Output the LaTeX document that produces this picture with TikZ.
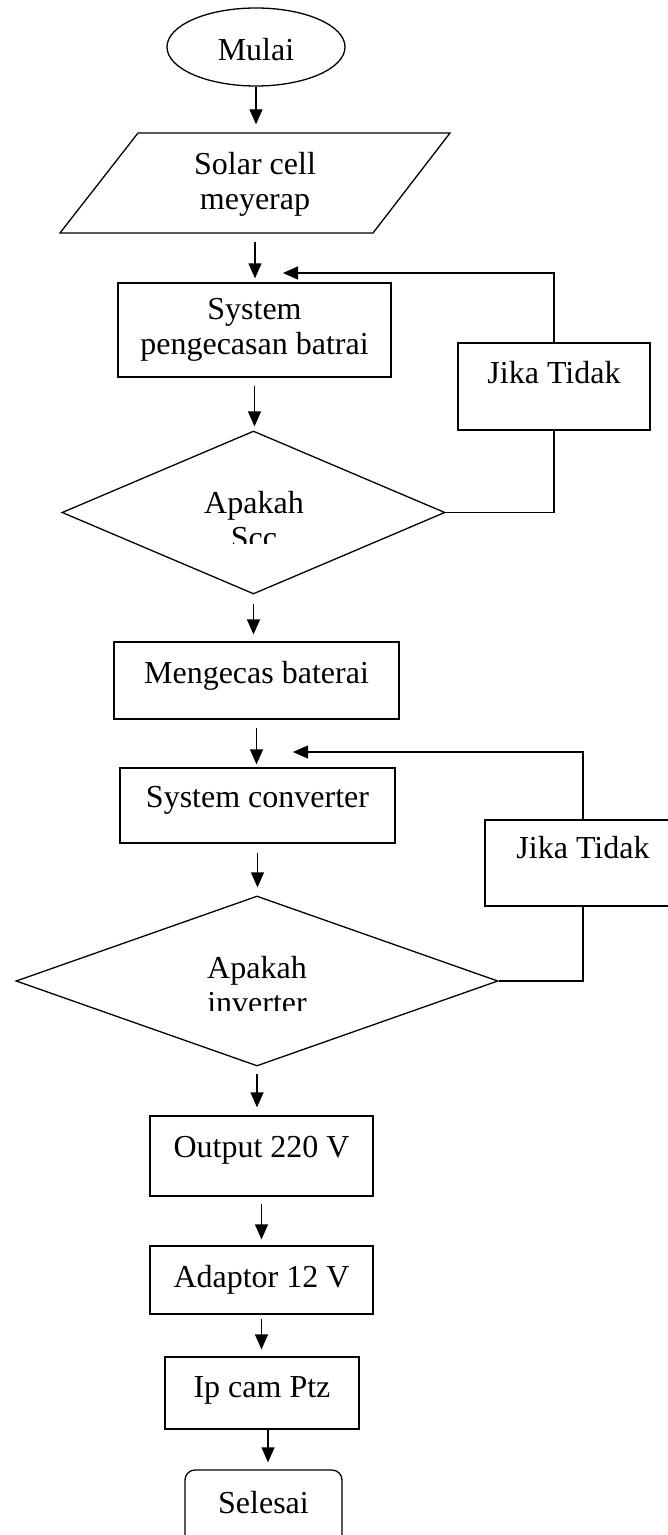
\documentclass[tikz,border=0pt]{standalone}
\usepackage{fontspec}
\setmainfont{Liberation Serif}
\usetikzlibrary{calc, positioning}
\usetikzlibrary{shapes.geometric}
\usetikzlibrary{arrows.meta}

\begin{document}
\begin{tikzpicture}[x=0.5pt, y=-0.5pt, line join=miter,
  font=\fontsize{16}{17.5}\selectfont,
  every node/.style={inner sep=0pt, line width=0.65pt},
  process/.style={draw, rectangle, align=center},
  oneline/.style={process, text height=10.5pt},
  decision/.style={draw, diamond},
  flow/.style={line width=0.65pt, -{Triangle[length=7.5pt, width=6.5pt]}},
  loopline/.style={line width=0.65pt}]

% Page frame
\useasboundingbox (0,0) rectangle (668,1535);
\clip (0,0) rectangle (668,1535);

% Start and input
\node[draw, ellipse, minimum width=89pt, minimum height=39pt, text height=14pt, text depth=0pt] (start) at (256,47) {Mulai};
\draw[line width=0.65pt] (60,233) -- (138,133) -- (450,133) -- (373,233) -- cycle;
\node[align=center, minimum height=50pt] (input) at (255,184) {Solar cell\\meyerap};

% First charging block with its check
\node[process, minimum width=136.5pt, minimum height=47pt] (proc1) at (254.5,330) {System\\pengecasan batrai};
\node[decision, minimum width=191.5pt, minimum height=81.5pt] (dec1) at (253.5,512.5) {};
\begin{scope}
\clip (62,431) rectangle (445,543);
\node[align=center] (dec1txt) at (254,520) {Apakah\\Scc};
\end{scope}
\node[oneline, minimum width=96pt, minimum height=43.5pt, text depth=14pt] (jika1) at (554,386.5) {Jika Tidak};

% Charging and converter
\node[oneline, minimum width=142.5pt, minimum height=38.5pt, text depth=8pt] (proc2) at (256.5,680.5) {Mengecas baterai};
\node[oneline, minimum width=137.5pt, minimum height=37.5pt, text depth=9pt] (proc3) at (257.5,805.5) {System converter};
\node[decision, minimum width=241pt, minimum height=85pt] (dec2) at (257,981) {};
\begin{scope}
\clip (16,896) rectangle (498,1010);
\node[align=center] (dec2txt) at (257,985) {Apakah\\inverter};
\end{scope}
\node[oneline, minimum width=98pt, minimum height=43pt, text depth=15.5pt] (jika2) at (583,863) {Jika Tidak};

% Output chain
\node[oneline, minimum width=111.5pt, minimum height=40pt, text depth=9.5pt] (out) at (261.5,1156) {Output 220 V};
\node[oneline, minimum width=111.5pt, minimum height=34pt, text depth=3.5pt] (adapt) at (261.5,1280) {Adaptor 12 V};
\node[oneline, minimum width=97pt, minimum height=36pt, text depth=6.5pt] (cam) at (262,1393) {Ip cam Ptz};
\node[oneline, rounded corners=5pt, minimum width=78.5pt, minimum height=37.5pt, text depth=5pt] (stop) at (263.5,1507.5) {Selesai};

% Main flow arrows
\draw[flow, shorten >=4.5pt] (start.south) -- (start.south |- input.north);
\draw[flow, shorten <=3.5pt, shorten >=2pt] (input.south) -- (input.south |- proc1.north);
\draw[flow, shorten <=4pt, shorten >=2pt] (proc1.south) -- (proc1.south |- dec1.north);
\draw[flow, shorten <=4.5pt, shorten >=3.5pt] (dec1.south) -- (dec1.south |- proc2.north);
\draw[flow, shorten <=4pt, shorten >=1.5pt] (proc2.south) -- (proc2.south |- proc3.north);
\draw[flow, shorten <=4.5pt, shorten >=4pt] (proc3.south) -- (proc3.south |- dec2.north);
\draw[flow, shorten <=3.5pt, shorten >=4pt] (dec2.south) -- (dec2.south |- out.north);
\draw[flow, shorten <=3.5pt, shorten >=3pt] (out.south) -- (out.south |- adapt.north);
\draw[flow, shorten <=2pt, shorten >=3.5pt] (adapt.south) -- (adapt.south |- cam.north);
\draw[flow, shorten >=3.5pt] ([xshift=3pt]cam.south) -- ([xshift=3pt]cam.south |- stop.north);

% Feedback loops
\coordinate (back1) at (283,273);
\coordinate (back2) at (293,752);
\draw[loopline] (dec1.east) -| (jika1.south);
\draw[flow] (jika1.north) |- (back1);
\draw[loopline] (dec2.east) -| (jika2.south);
\draw[flow] (jika2.north) |- (back2);
\end{tikzpicture}
\end{document}
